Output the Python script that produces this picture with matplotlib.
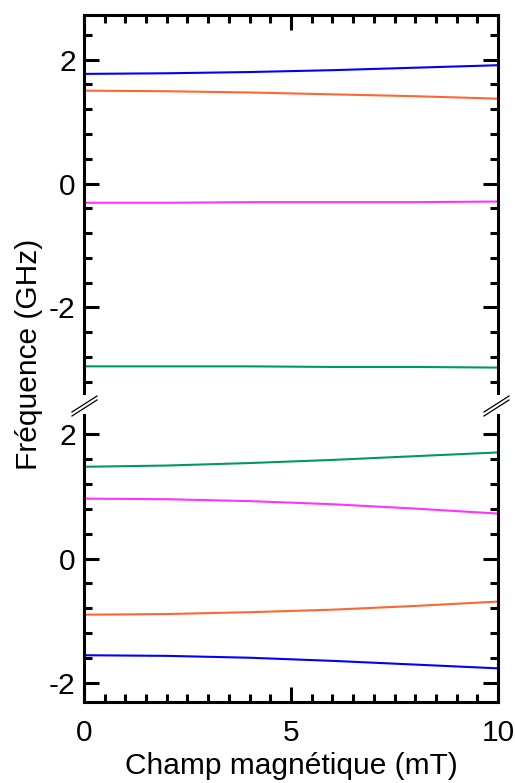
import matplotlib
matplotlib.use("Agg")
from matplotlib import pyplot as plt
from matplotlib.lines import Line2D
from matplotlib.ticker import MultipleLocator

plt.rcParams["font.family"] = ["Liberation Sans", "DejaVu Sans"]
plt.rcParams["axes.unicode_minus"] = False

# champ magnetique (mT)
field = [0, 2, 4, 6, 8, 10]

# upper branch of the broken axis (GHz)
top_blue = [1.77, 1.78, 1.80, 1.83, 1.87, 1.91]
top_orange = [1.50, 1.49, 1.47, 1.44, 1.41, 1.37]
top_magenta = [-0.31, -0.31, -0.30, -0.30, -0.30, -0.29]
top_green = [-2.95, -2.95, -2.95, -2.96, -2.96, -2.97]

# lower branch of the broken axis (GHz)
bot_green = [1.47, 1.49, 1.53, 1.58, 1.64, 1.70]
bot_magenta = [0.96, 0.95, 0.92, 0.87, 0.80, 0.72]
bot_orange = [-0.90, -0.89, -0.86, -0.82, -0.76, -0.69]
bot_blue = [-1.55, -1.56, -1.59, -1.64, -1.70, -1.76]

BLUE, ORANGE, MAGENTA, GREEN = "#0000ff", "#ff6633", "#ff33ff", "#009966"

fig = plt.figure(figsize=(5.15, 7.83), dpi=100)
ax_top = fig.add_axes([0.1631, 0.4981, 0.8039, 0.4827])
ax_bot = fig.add_axes([0.1631, 0.1034, 0.8039, 0.3666])

for y, c in [(top_blue, BLUE), (top_orange, ORANGE), (top_magenta, MAGENTA), (top_green, GREEN)]:
    ax_top.plot(field, y, color=c, lw=1.5)
for y, c in [(bot_green, GREEN), (bot_magenta, MAGENTA), (bot_orange, ORANGE), (bot_blue, BLUE)]:
    ax_bot.plot(field, y, color=c, lw=1.5)

ax_top.set_ylim(-3.38, 2.72)
ax_bot.set_ylim(-2.3, 2.3)

for ax in (ax_top, ax_bot):
    ax.set_xlim(0, 10)
    ax.xaxis.set_major_locator(MultipleLocator(5))
    ax.xaxis.set_minor_locator(MultipleLocator(0.5))
    ax.yaxis.set_major_locator(MultipleLocator(2))
    ax.yaxis.set_minor_locator(MultipleLocator(0.4))
    ax.tick_params(which="both", direction="in", width=2.2, left=True, right=True,
                   labelsize=21.5, pad=6)
    ax.tick_params(which="major", length=11)
    ax.tick_params(which="minor", length=6)
    for s in ax.spines.values():
        s.set_linewidth(2.2)

ax_top.spines["bottom"].set_visible(False)
ax_top.tick_params(which="both", top=True, bottom=False, labelbottom=False)
ax_bot.spines["top"].set_visible(False)
ax_bot.tick_params(which="both", top=False, bottom=True)
ax_bot.tick_params(axis="x", pad=12)

ax_bot.set_xlabel("Champ magnétique (mT)", fontsize=21.5, labelpad=4)
fig.text(0.056, 0.548, "Fréquence (GHz)", rotation=90, fontsize=21.5,
         ha="center", va="center")

# break marks between the two panels
for x0 in (72 / 515, 484 / 515):
    for dy in (0.0, -4 / 783):
        fig.add_artist(Line2D([x0, x0 + 25 / 515],
                              [1 - 412 / 783 + dy, 1 - 396 / 783 + dy],
                              transform=fig.transFigure, color="black", lw=0.9))

fig.savefig("out.png", dpi=100)
